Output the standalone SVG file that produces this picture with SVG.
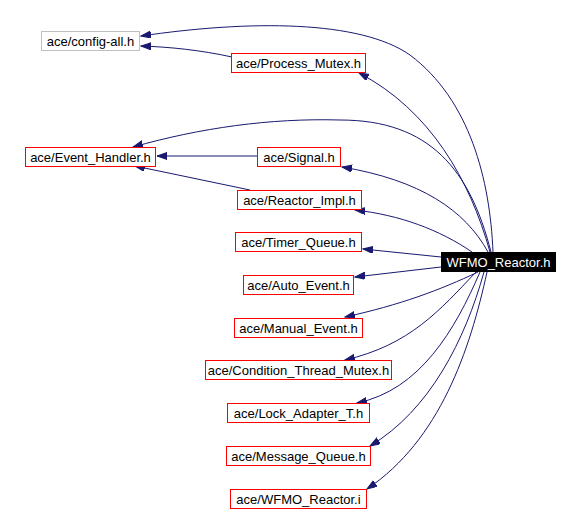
<svg xmlns="http://www.w3.org/2000/svg" width="580" height="510" viewBox="0 0 580 510">
<style>
.n rect{fill:#fff;stroke:#f00;stroke-width:1}
.n text{font-family:"Liberation Sans",Arial,sans-serif;font-size:13px;fill:#000;text-anchor:middle}
#config_all rect{stroke:#bfbfbf}
#wfmo_h rect{fill:#000;stroke:#000}
#wfmo_h text{fill:#fff}
.e path{fill:none;stroke:#191970;stroke-width:1;marker-end:url(#ah)}
</style>
<defs>
<marker id="ah" markerUnits="userSpaceOnUse" markerWidth="12" markerHeight="9" refX="10" refY="3.5" orient="auto">
<path d="M0,0 L10,3.5 L0,7 z" fill="#191970" stroke="#191970"/>
</marker>
</defs>
<rect width="580" height="510" fill="#fff"/>
<g class="e" id="edges">
<path d="M493,252 C490,180 470,100 410,55 C360,20 250,20 141,36"/>
<path d="M490,252 C470,180 430,110 359,73"/>
<path d="M232,57 C200,50 170,47 141,46"/>
<path d="M491,252 C470,170 430,120 340,120 C270,118 200,128 133,147"/>
<path d="M257,156 L157,156"/>
<path d="M250,190 L135,166"/>
<path d="M488,252 C465,210 420,180 342,167"/>
<path d="M472,252 C440,230 400,215 355,210"/>
<path d="M441,257 L363,249"/>
<path d="M441,267 L355,277"/>
<path d="M478,272 C440,290 400,305 345,317"/>
<path d="M476,272 C440,310 410,345 345,360"/>
<path d="M480,272 C455,330 420,390 357,403"/>
<path d="M484,272 C465,340 430,410 370,446"/>
<path d="M487,272 C470,350 440,440 367,489"/>
</g>
<g class="n" id="config_all"><rect x="41.5" y="31.5" width="98" height="19"/><text x="90.5" y="46">ace/config-all.h</text></g>
<g class="n" id="process_mutex"><rect x="231.5" y="53.5" width="134" height="19"/><text x="298.5" y="68">ace/Process_Mutex.h</text></g>
<g class="n" id="event_handler"><rect x="25.5" y="147.5" width="130" height="19"/><text x="90.5" y="162">ace/Event_Handler.h</text></g>
<g class="n" id="signal"><rect x="257.5" y="147.5" width="83" height="19"/><text x="299" y="162">ace/Signal.h</text></g>
<g class="n" id="reactor_impl"><rect x="237.5" y="190.5" width="124" height="19"/><text x="299.5" y="205">ace/Reactor_Impl.h</text></g>
<g class="n" id="timer_queue"><rect x="235.5" y="232.5" width="126" height="19"/><text x="298.5" y="247">ace/Timer_Queue.h</text></g>
<g class="n" id="wfmo_h"><rect x="441.5" y="252.5" width="114" height="19"/><text x="498.5" y="267">WFMO_Reactor.h</text></g>
<g class="n" id="auto_event"><rect x="243.5" y="275.5" width="110" height="19"/><text x="298.5" y="290">ace/Auto_Event.h</text></g>
<g class="n" id="manual_event"><rect x="234.5" y="318.5" width="128" height="19"/><text x="298.5" y="333">ace/Manual_Event.h</text></g>
<g class="n" id="cond_thread_mutex"><rect x="205.5" y="360.5" width="186" height="19"/><text x="298.5" y="375">ace/Condition_Thread_Mutex.h</text></g>
<g class="n" id="lock_adapter"><rect x="227.5" y="403.5" width="142" height="19"/><text x="298.5" y="418">ace/Lock_Adapter_T.h</text></g>
<g class="n" id="message_queue"><rect x="226.5" y="446.5" width="144" height="19"/><text x="298.5" y="461">ace/Message_Queue.h</text></g>
<g class="n" id="wfmo_i"><rect x="230.5" y="489.5" width="136" height="19"/><text x="298.5" y="504">ace/WFMO_Reactor.i</text></g>
</svg>
